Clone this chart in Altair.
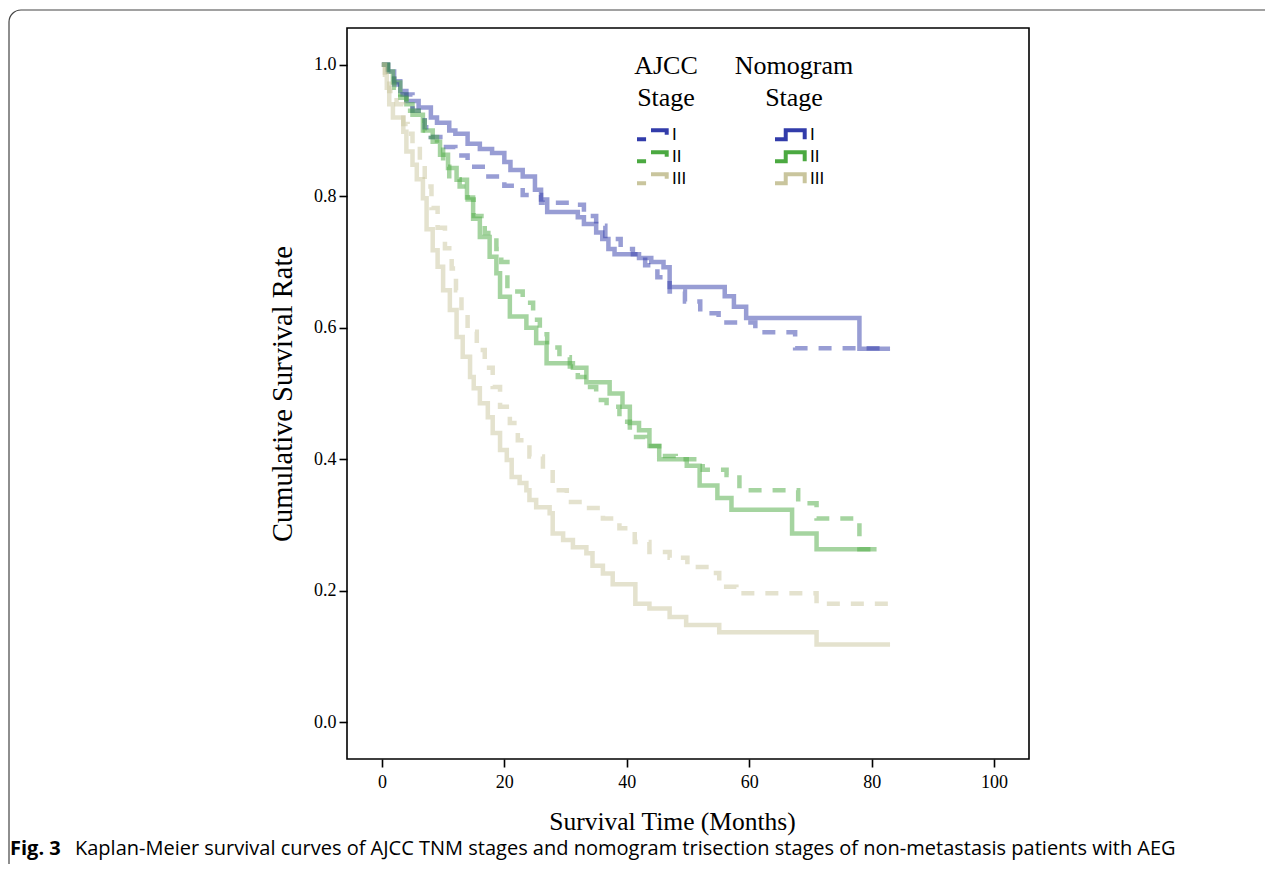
import altair as alt
import pandas as pd

stages = ["I", "II", "III"]
stage_colors = ["#323caa", "#4ba941", "#c9c59d"]

# Nomogram stage curves (solid)
nomo_I_t = [0, 1, 2, 3, 4, 6, 8, 9, 11, 12, 14, 16, 18, 20, 21, 23, 25, 26, 27, 32, 33, 35, 36, 37, 38, 42, 44, 46, 47, 55, 56, 57.5, 59.5, 78, 83]
nomo_I_s = [1.0, 0.99, 0.975, 0.96, 0.945, 0.935, 0.92, 0.912, 0.9, 0.895, 0.88, 0.872, 0.866, 0.852, 0.84, 0.83, 0.81, 0.795, 0.776, 0.768, 0.758, 0.745, 0.735, 0.72, 0.712, 0.706, 0.70, 0.692, 0.662, 0.662, 0.648, 0.632, 0.615, 0.568, 0.568]

nomo_II_t = [0, 1, 1.8, 3, 4, 5, 6.7, 8.3, 9.5, 10.8, 12.2, 13.9, 14.9, 16, 17.6, 18.7, 19.3, 20.9, 23.6, 25.2, 26.9, 31.2, 33.4, 37.2, 39.3, 40.5, 42, 43.7, 45.3, 49.8, 51.9, 54.8, 57.1, 67, 71, 80.8]
nomo_II_s = [1.0, 0.99, 0.973, 0.955, 0.94, 0.924, 0.9, 0.883, 0.863, 0.843, 0.825, 0.798, 0.766, 0.738, 0.708, 0.683, 0.647, 0.617, 0.6, 0.577, 0.546, 0.539, 0.517, 0.5, 0.48, 0.455, 0.444, 0.42, 0.4, 0.39, 0.36, 0.341, 0.323, 0.287, 0.263, 0.263]

nomo_III_t = [0, 0.5, 0.8, 1.2, 1.8, 3.5, 4, 5, 5.7, 6.7, 7.3, 8.3, 9.1, 10, 11.1, 12.2, 13.2, 14.4, 15, 16, 17.3, 18.1, 19.3, 20.4, 21.2, 22.5, 23.6, 24.1, 25.2, 27.4, 27.9, 29.6, 31.2, 33.4, 34.4, 36.1, 37.7, 41.4, 43.7, 47, 49.7, 55.1, 71, 83]
nomo_III_s = [1.0, 0.985, 0.965, 0.94, 0.92, 0.898, 0.868, 0.848, 0.826, 0.797, 0.75, 0.718, 0.693, 0.657, 0.627, 0.586, 0.556, 0.525, 0.508, 0.485, 0.464, 0.44, 0.414, 0.399, 0.373, 0.364, 0.353, 0.338, 0.327, 0.318, 0.287, 0.277, 0.266, 0.257, 0.238, 0.226, 0.21, 0.18, 0.173, 0.16, 0.148, 0.137, 0.118, 0.118]

# AJCC stage curves (dashed)
ajcc_I_t = [0, 1, 2, 3, 5, 7, 8, 10, 12, 14, 17, 20, 23, 26, 31, 33, 35, 36.5, 39, 41, 43, 45, 47, 49.5, 52, 55, 61, 67.5, 83]
ajcc_I_s = [1.0, 0.985, 0.97, 0.955, 0.93, 0.905, 0.89, 0.875, 0.862, 0.845, 0.83, 0.816, 0.802, 0.79, 0.787, 0.77, 0.755, 0.735, 0.72, 0.712, 0.695, 0.677, 0.655, 0.64, 0.622, 0.608, 0.593, 0.569, 0.569]

ajcc_II_t = [0, 1, 2, 3, 4, 6, 7, 8, 9, 10, 11, 12.7, 14, 15, 16.8, 18.7, 19.5, 20.5, 23, 24.7, 25.8, 27, 29, 30.7, 32, 34, 35, 36.7, 38.8, 40.5, 43, 45.3, 48, 52.4, 56.3, 58.4, 68, 71, 78, 80]
ajcc_II_s = [1.0, 0.985, 0.965, 0.95, 0.93, 0.915, 0.9, 0.89, 0.875, 0.845, 0.826, 0.815, 0.795, 0.77, 0.744, 0.72, 0.7, 0.655, 0.638, 0.612, 0.59, 0.57, 0.555, 0.541, 0.525, 0.51, 0.49, 0.48, 0.457, 0.434, 0.42, 0.405, 0.4, 0.384, 0.376, 0.353, 0.333, 0.31, 0.263, 0.263]

ajcc_III_t = [0, 0.5, 1.2, 2.4, 3.5, 4.2, 5, 6.2, 7, 8.1, 9.1, 10.3, 11.4, 12.1, 13, 14, 15.5, 16.8, 18.1, 19.3, 20.9, 22.2, 24.1, 26.3, 27.9, 30.2, 33.4, 36.1, 38.8, 41.3, 43.7, 47, 49.9, 53.5, 55.1, 57.9, 71, 83]
ajcc_III_s = [1.0, 0.98, 0.96, 0.94, 0.91, 0.895, 0.878, 0.85, 0.815, 0.782, 0.752, 0.721, 0.69, 0.657, 0.622, 0.594, 0.566, 0.539, 0.51, 0.48, 0.455, 0.429, 0.404, 0.384, 0.353, 0.335, 0.326, 0.31, 0.295, 0.274, 0.259, 0.25, 0.236, 0.227, 0.206, 0.196, 0.18, 0.18]

x_ticks = [0, 20, 40, 60, 80, 100]
y_ticks = [0.0, 0.2, 0.4, 0.6, 0.8, 1.0]

caption_bold = "Fig. 3"
caption_text = "Kaplan-Meier survival curves of AJCC TNM stages and nomogram trisection stages of non-metastasis patients with AEG"


def build(field, series):
    rows = []
    for stage, ts, ss in series:
        for t, s in zip(ts, ss):
            rows.append({field: stage, "Months": t, "Survival": s})
    return pd.DataFrame(rows)


nomo_df = build("Nomogram", [("I", nomo_I_t, nomo_I_s), ("II", nomo_II_t, nomo_II_s), ("III", nomo_III_t, nomo_III_s)])
ajcc_df = build("AJCC", [("I", ajcc_I_t, ajcc_I_s), ("II", ajcc_II_t, ajcc_II_s), ("III", ajcc_III_t, ajcc_III_s)])

x_enc = alt.X("Months:Q", title="Survival Time (Months)",
              scale=alt.Scale(domain=[-5.7, 105.7], nice=False, zero=False),
              axis=alt.Axis(values=x_ticks, format="d", labelPadding=6, titlePadding=18,
                            titleFontSize=25.5, titleX=325, titleAlign="center"))
y_enc = alt.Y("Survival:Q", title="Cumulative Survival Rate",
              scale=alt.Scale(domain=[-0.056, 1.056], nice=False, zero=False),
              axis=alt.Axis(values=y_ticks, format=".1f", labelPadding=3, titlePadding=16,
                            titleFontSize=28.5))

ajcc_symbol = "M -1 0.27 L -0.45 0.27 M -0.15 -0.27 L 0.8 -0.27 L 0.8 0"
nomo_symbol = "M -1 0.27 L -0.35 0.27 L -0.35 -0.27 L 0.8 -0.27 L 0.8 0.27"

legend_common = dict(orient="none", title=None, symbolSize=1089, symbolStrokeWidth=4,
                     symbolOpacity=1, labelFont="Liberation Sans", labelFontSize=17,
                     labelColor="black", labelOffset=0, rowPadding=0, padding=0,
                     clipHeight=21.5)

ajcc_lines = alt.Chart(ajcc_df).mark_line(
    interpolate="step-after", strokeWidth=4.5, opacity=0.5, strokeDash=[13, 11], strokeCap="butt"
).encode(
    x=x_enc, y=y_enc,
    color=alt.Color("AJCC:N", scale=alt.Scale(domain=stages, range=stage_colors),
                    legend=alt.Legend(symbolType=ajcc_symbol, legendX=288, legendY=96, **legend_common)),
    detail="AJCC:N",
)

nomo_lines = alt.Chart(nomo_df).mark_line(
    interpolate="step-after", strokeWidth=4.5, opacity=0.5
).encode(
    x=x_enc, y=y_enc,
    color=alt.Color("Nomogram:N", scale=alt.Scale(domain=stages, range=stage_colors),
                    legend=alt.Legend(symbolType=nomo_symbol, legendX=426, legendY=96, **legend_common)),
)

one = pd.DataFrame({"k": [0]})

head_ajcc = alt.Chart(one).mark_text(
    font="Liberation Serif", fontSize=26, align="center", baseline="middle",
    lineBreak="\n", lineHeight=32, color="black"
).encode(x=alt.value(319), y=alt.value(38), text=alt.value("AJCC\nStage"))

head_nomo = alt.Chart(one).mark_text(
    font="Liberation Serif", fontSize=26, align="center", baseline="middle",
    lineBreak="\n", lineHeight=32, color="black"
).encode(x=alt.value(447), y=alt.value(38), text=alt.value("Nomogram\nStage"))

cap_bold = alt.Chart(one).mark_text(
    font="Open Sans", fontSize=20, fontWeight="bold", align="left", baseline="middle", color="black"
).encode(x=alt.value(-337), y=alt.value(821), text=alt.value(caption_bold))

cap_text = alt.Chart(one).mark_text(
    font="Open Sans", fontSize=20, align="left", baseline="middle", color="black"
).encode(x=alt.value(-272), y=alt.value(821), text=alt.value(caption_text))

frame_box = alt.Chart(one).mark_rect(
    fill="transparent", stroke="#444444", strokeWidth=1.2, cornerRadius=12
).encode(x=alt.value(-338), x2=alt.value(1100), y=alt.value(-18), y2=alt.value(1000))

chart = alt.layer(
    frame_box, nomo_lines, ajcc_lines, head_ajcc, head_nomo, cap_bold, cap_text
).resolve_scale(color="independent").properties(
    width=682, height=731,
    autosize="none",
    padding={"left": 339, "top": 20, "right": 236, "bottom": 105},
    background="white",
).configure_view(
    stroke="black", strokeWidth=1.6
).configure_axis(
    labelFont="Liberation Serif", labelFontSize=18, labelColor="black",
    titleFont="Liberation Serif", titleFontSize=24, titleFontWeight="normal", titleColor="black",
    tickColor="black", tickWidth=1.6, tickSize=8, domain=False, grid=False
)

chart.save("out.html", embed_options={"renderer": "svg", "actions": False})
